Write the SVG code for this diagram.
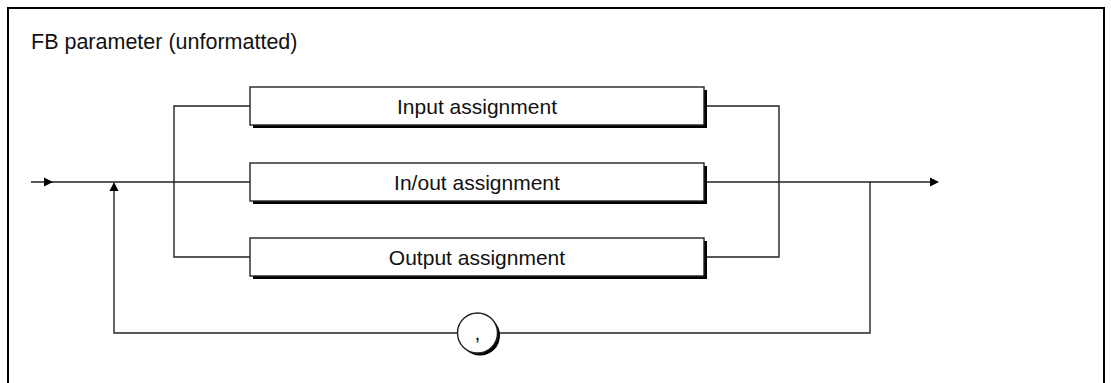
<svg xmlns="http://www.w3.org/2000/svg" width="1111" height="383" viewBox="0 0 1111 383">
<style>
.frame{fill:none;stroke:#000;stroke-width:2}
.ln{fill:none;stroke:#222;stroke-width:1.4}
.box{fill:#fff;stroke:#222;stroke-width:1.4}
.sh{fill:#000}
.t{font-family:"Liberation Sans",Arial,sans-serif;font-size:21px;fill:#111}
.ah{fill:#000}
</style>
<rect width="1111" height="383" fill="#fff"/>
<path class="frame" d="M8,390 V8 H1104 V390"/>
<text class="t" x="31" y="49" style="font-size:21.5px">FB parameter (unformatted)</text>
<g id="connectors">
<path class="ln" d="M31,182 H250"/>
<path class="ln" d="M704,182 H932"/>
<path class="ln" d="M250,106 H174 V257 H250"/>
<path class="ln" d="M704,106 H779 V257 H704"/>
<path class="ln" d="M870,182 V333 H498"/>
<path class="ln" d="M457,333 H114 V189"/>
<polygon class="ah" points="53,182 44,177.5 44,186.5"/>
<polygon class="ah" points="939,182 930,177.5 930,186.5"/>
<polygon class="ah" points="114,182 109.5,191 118.5,191"/>
</g>
<g id="input">
<rect class="sh" x="253" y="90" width="454" height="38"/>
<rect class="box" x="250" y="87" width="454" height="38"/>
<text class="t" x="477" y="114" text-anchor="middle">Input assignment</text>
</g>
<g id="inout">
<rect class="sh" x="253" y="166" width="454" height="38"/>
<rect class="box" x="250" y="163" width="454" height="38"/>
<text class="t" x="477" y="190" text-anchor="middle">In/out assignment</text>
</g>
<g id="output">
<rect class="sh" x="253" y="241" width="454" height="38"/>
<rect class="box" x="250" y="238" width="454" height="38"/>
<text class="t" x="477" y="265" text-anchor="middle">Output assignment</text>
</g>
<g id="comma">
<circle class="sh" cx="480" cy="335.5" r="20"/>
<circle class="box" cx="477.5" cy="333" r="20"/>
<text class="t" x="477.5" y="340" text-anchor="middle">,</text>
</g>
</svg>
